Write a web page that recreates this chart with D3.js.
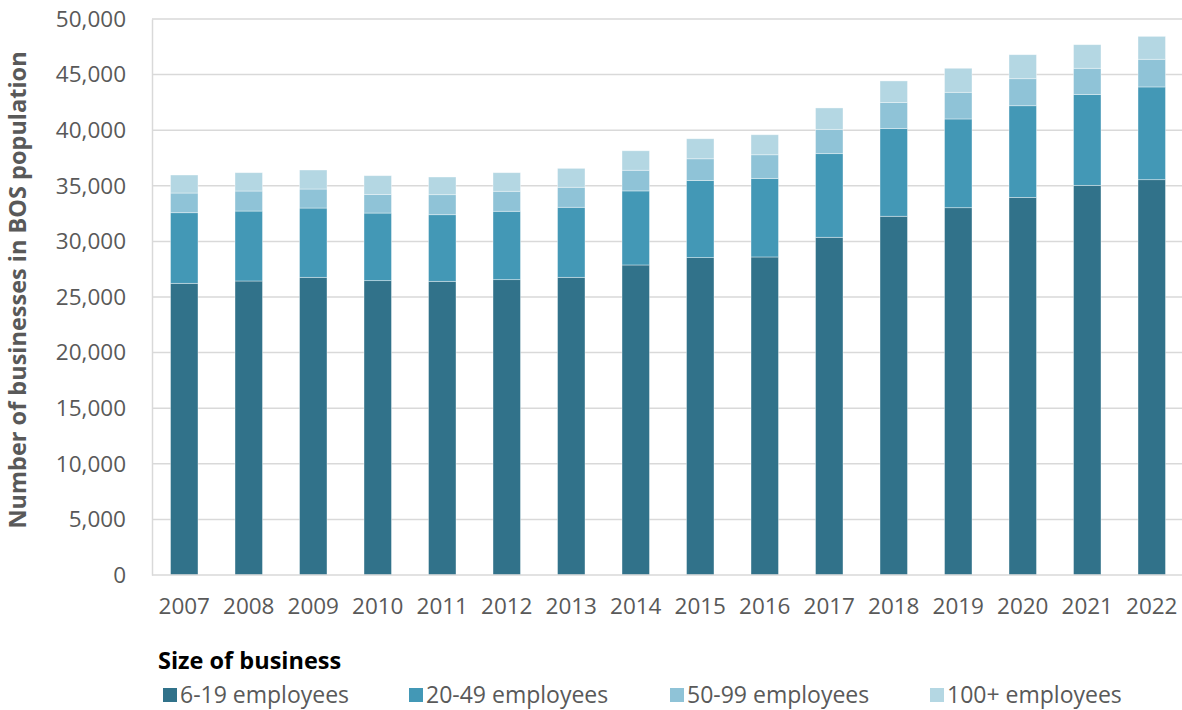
<!DOCTYPE html>
<html>
<head>
<meta charset="utf-8">
<script src="https://cdn.jsdelivr.net/npm/d3@7"></script>
<style>
  html, body { margin: 0; padding: 0; background: #ffffff; }
  svg { display: block; }
  text { font-family: "Open Sans", "Noto Sans", sans-serif; }
</style>
</head>
<body>
<svg id="chart" width="1182" height="710"></svg>
<script>
// Businesses in the BOS population by size band, 2007-2022
const years = ["2007","2008","2009","2010","2011","2012","2013","2014","2015","2016","2017","2018","2019","2020","2021","2022"];
const emp6to19   = [26230,26440,26770,26470,26410,26560,26770,27880,28540,28600,30370,32260,33030,33960,35040,35550];
const emp20to49  = [6350,6290,6230,6080,5990,6150,6300,6660,6940,7070,7520,7880,7980,8240,8160,8340];
const emp50to99  = [1770,1800,1710,1680,1800,1800,1800,1860,1950,2120,2190,2340,2400,2430,2370,2490];
const emp100plus = [1620,1650,1710,1680,1590,1670,1700,1750,1800,1800,1920,1950,2160,2160,2120,2060];
const seriesNames = ["6-19 employees","20-49 employees","50-99 employees","100+ employees"];
const seriesColors = ["#31728a","#4398b6","#8fc3d7","#b4d7e3"];
const yTicks = [0,5000,10000,15000,20000,25000,30000,35000,40000,45000,50000];

const svg = d3.select("#chart");
const m = { left: 152, right: 1184, top: 19, bottom: 575 };

const rows = years.map((y, i) => ({
  year: y,
  s0: emp6to19[i], s1: emp20to49[i], s2: emp50to99[i], s3: emp100plus[i]
}));
const stack = d3.stack().keys(["s0","s1","s2","s3"]);
const layers = stack(rows);

const x = d3.scaleBand().domain(years).range([m.left, m.right]).paddingInner(0.574).paddingOuter(0.287);
const y = d3.scaleLinear().domain([0, 50000]).range([m.bottom, m.top]);

// Gridlines
svg.append("g")
  .selectAll("line")
  .data(yTicks.filter(d => d > 0))
  .join("line")
  .attr("x1", m.left).attr("x2", 1182)
  .attr("y1", d => y(d)).attr("y2", d => y(d))
  .attr("stroke", "#d9d9d9").attr("stroke-width", 1.5);

// Bars
svg.append("g")
  .selectAll("g")
  .data(layers)
  .join("g")
  .attr("fill", (d, i) => seriesColors[i])
  .selectAll("rect")
  .data(d => d)
  .join("rect")
  .attr("x", d => x(d.data.year))
  .attr("width", x.bandwidth())
  .attr("y", d => y(d[1]))
  .attr("height", d => y(d[0]) - y(d[1]))
  .attr("stroke", "#ffffff").attr("stroke-opacity", 0.5).attr("stroke-width", 0.75);

// Axes
const yAxis = d3.axisLeft(y).tickValues(yTicks).tickSize(0).tickPadding(26)
  .tickFormat(d3.format(","));
const gy = svg.append("g").attr("transform", `translate(${m.left},0)`).call(yAxis);
gy.select(".domain").attr("stroke", "#d9d9d9").attr("stroke-width", 1.5);
gy.selectAll("text").attr("fill", "#595959").style("font-size", "22.5px");

const xAxis = d3.axisBottom(x).tickSize(0).tickPadding(23);
const gx = svg.append("g").attr("transform", `translate(0,${m.bottom})`).call(xAxis);
gx.select(".domain").attr("d", `M${m.left},0H1182`).attr("stroke", "#d9d9d9").attr("stroke-width", 1.5);
gx.selectAll("text").attr("fill", "#595959").style("font-size", "22.5px");

// Y axis title
svg.append("text")
  .attr("transform", `translate(26,${(m.top + m.bottom) / 2 - 7}) rotate(-90)`)
  .attr("text-anchor", "middle")
  .attr("fill", "#595959")
  .style("font-size", "23.5px").style("font-weight", "bold")
  .text("Number of businesses in BOS population");

// Legend
svg.append("text")
  .attr("x", 158).attr("y", 669)
  .attr("fill", "#000000")
  .style("font-size", "23.5px").style("font-weight", "bold")
  .text("Size of business");

const legendX = [163, 409, 670, 930];
const lg = svg.append("g").selectAll("g")
  .data(seriesNames)
  .join("g")
  .attr("transform", (d, i) => `translate(${legendX[i]},688)`);
lg.append("rect").attr("width", 14).attr("height", 14)
  .attr("fill", (d, i) => seriesColors[i]);
lg.append("text").attr("x", 17).attr("y", 15)
  .attr("fill", "#595959").style("font-size", "23px")
  .text(d => d);
</script>
</body>
</html>
